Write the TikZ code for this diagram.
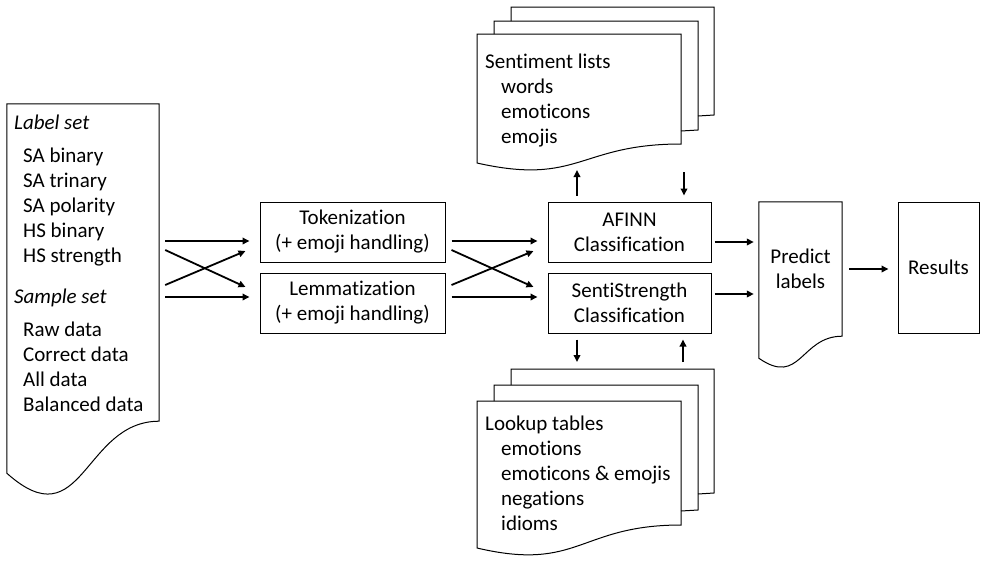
\documentclass[tikz,border=0pt]{standalone}
\usepackage{fontspec}
\setmainfont{Carlito}[RawFeature={-liga;-clig;-dlig;-calt;-rlig}]
\usetikzlibrary{arrows.meta,calc}

\begin{document}
\begin{tikzpicture}[
  x=1pt, y=-1pt,
  every node/.style={font=\fontsize{21}{25}\selectfont},
  box/.style={draw, line width=1pt, minimum width=185pt, minimum height=60pt, align=center, inner sep=0pt},
  area/.style={minimum width=#1, inner sep=0pt, align=center},
  item/.style={anchor=base west, inner sep=0pt},
  page/.style={draw, line width=1pt},
  arr/.style={-{Triangle[length=7pt,width=6.5pt]}, line width=1.8pt},
]
\useasboundingbox (0,0) rectangle (990,568);

% Input document (label set / sample set)
\node[area=152pt, minimum height=317pt] (labels) at (83,262.5) {};
\draw[page] (labels.north west) -- (labels.north east) -- (labels.south east)
  .. controls (labels.south) and ($(labels.south)+(0,-120pt)$) .. ($(labels.south west)+(0,-52pt)$) -- cycle;
\node[item] (labelset) at (14,129) {\textit{Label set}};
\foreach \t [count=\i from 0] in {SA binary, SA trinary, SA polarity, HS binary, HS strength}
  \node[item] (lset\i) at (23,{162+25*\i}) {\t};
\node[item] (sampleset) at (14,303) {\textit{Sample set}};
\foreach \t [count=\i from 0] in {Raw data, Correct data, All data, Balanced data}
  \node[item] (sset\i) at (23,{336+25*\i}) {\t};

% Preprocessing
\node[box] (tok) at (352.5,232) {Tokenization\\(+ emoji handling)};
\node[box] (lem) at (352.5,303) {Lemmatization\\(+ emoji handling)};

% Classification
\node[box, minimum width=163pt] (afinn) at (629.5,232) {AFINN\\Classification};
\node[box, minimum width=163pt] (senti) at (629.5,303) {SentiStrength\\Classification};

% Sentiment lists (stacked pages)
\draw[page] (511,21) -- (511,7) -- (714,7) -- (714,115) -- (698,116);
\draw[page] (494,34) -- (494,21) -- (698,21) -- (698,130) -- (681,131);
\draw[page] (477,34) -- (681,34) -- (681,144) .. controls (579,144) and (579,186) .. (477,163) -- cycle;
\node[item] (sentlists) at (485,68) {Sentiment lists};
\foreach \t [count=\i from 0] in {words, emoticons, emojis}
  \node[item] (sent\i) at (501,{93+25*\i}) {\t};

% Lookup tables (stacked pages)
\draw[page] (511,385) -- (511,369) -- (714,369) -- (714,493) -- (698,494);
\draw[page] (494,401) -- (494,385) -- (698,385) -- (698,510) -- (681,511);
\draw[page] (477,401) -- (681,401) -- (681,525) .. controls (579,525) and (579,572) .. (477,548) -- cycle;
\node[item] (lookuptables) at (485,430) {Lookup tables};
\foreach \t [count=\i from 0] in {emotions, emoticons \& emojis, negations, idioms}
  \node[item] (look\i) at (501,{455+25*\i}) {\t};

% Predict labels document
\node[area=83pt, minimum height=134pt] (pred) at (800.5,269) {Predict\\labels};
\draw[page] (pred.north west) -- (pred.north east) -- (pred.south east)
  .. controls (pred.south) and ($(pred.south)+(0,-51pt)$) .. ($(pred.south west)+(0,-22pt)$) -- cycle;

% Results
\node[box, minimum width=81pt, minimum height=131pt] (results) at (938.5,267.5) {Results};

% Crossing arrows
\foreach \src/\up/\dn in {labels/tok/lem, tok/afinn/senti}{
  \draw[arr] ($(\src.east |- \up.west)+(6pt,-9pt)$) -- ($(\up.west)+(-10pt,-9pt)$);
  \draw[arr] ($(\src.east |- \up.west)+(6pt,-18pt)$) -- ($(\dn.west)+(-14pt,16pt)$);
  \draw[arr] ($(\src.east |- \dn.west)+(6pt,18pt)$) -- ($(\up.west)+(-14pt,-19pt)$);
  \draw[arr] ($(\src.east |- \dn.west)+(6pt,6pt)$) -- ($(\dn.west)+(-10pt,6pt)$);
}

% Lists and tables
\coordinate (stup) at (577,170);
\coordinate (stdown) at (684,172);
\coordinate (lkdown) at (577,362);
\coordinate (lkup) at (683,362);
\draw[arr, shorten <=6pt] (afinn.north -| stup) -- (stup);
\draw[arr, shorten >=6pt] (stdown) -- (stdown |- afinn.north);
\draw[arr, shorten <=6pt] (senti.south -| lkdown) -- (lkdown);
\draw[arr, shorten >=6pt] (lkup) -- (lkup |- senti.south);

% Output
\draw[arr, shorten <=3pt, shorten >=5pt] ($(afinn.east)+(0,-10pt)$) -- ($(afinn.east -| pred.west)+(0,-10pt)$);
\draw[arr, shorten <=3pt, shorten >=5pt] ($(senti.east)+(0,9pt)$) -- ($(senti.east -| pred.west)+(0,9pt)$);
\draw[arr, shorten <=7pt, shorten >=9pt] (pred.east) -- (pred.east -| results.west);

\end{tikzpicture}
\end{document}
